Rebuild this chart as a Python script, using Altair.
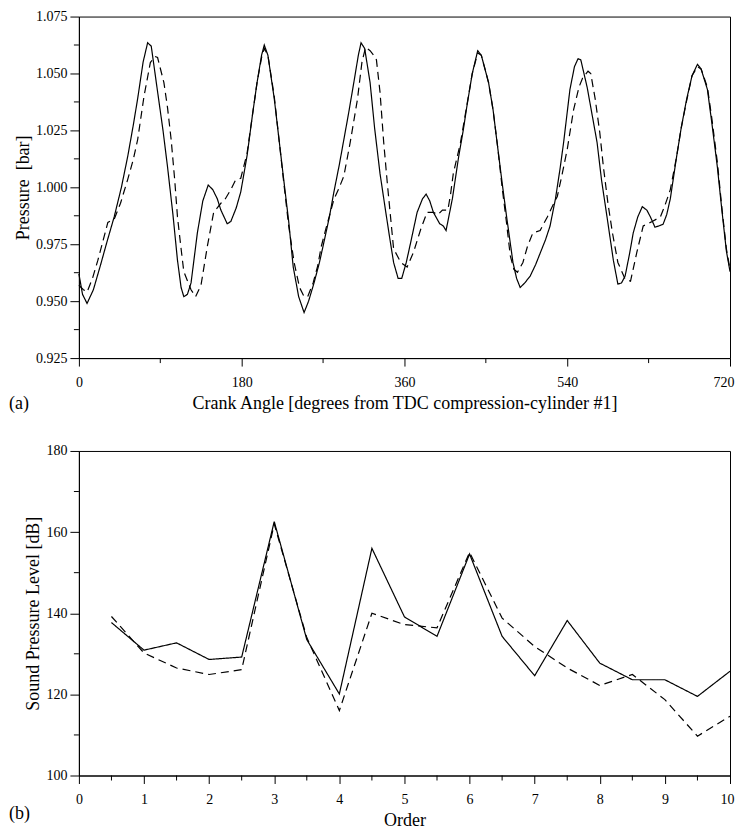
import altair as alt
import pandas as pd

# ---------------- data ----------------
crank_meas = [0, 4, 9, 16, 24, 31, 39, 47, 54, 60, 65, 71, 76, 80, 87, 93, 98, 104, 109, 113,
              116, 120, 124, 131, 137, 143, 148, 153, 157, 164, 168, 174, 179, 186, 192, 197,
              202, 205, 209, 216, 221, 226, 232, 237, 243, 249, 254, 260, 266, 271, 277, 282,
              288, 293, 298, 304, 309, 312, 316, 322, 327, 333, 339, 344, 348, 353, 357, 362,
              367, 374, 380, 384, 388, 392, 399, 403, 406, 413, 420, 425, 429, 435, 441, 445,
              453, 458, 462, 468, 473, 480, 484, 488, 493, 499, 505, 510, 516, 521, 527, 532,
              536, 543, 548, 552, 555, 562, 567, 573, 578, 584, 591, 596, 600, 604, 609, 613,
              618, 623, 628, 632, 637, 641, 646, 650, 654, 661, 666, 672, 678, 684, 688, 695,
              700, 706, 711, 716, 720]
p_meas = [0.962, 0.953, 0.949, 0.955, 0.966, 0.976, 0.987, 1.000, 1.0136, 1.027, 1.039, 1.055,
          1.0635, 1.062, 1.042, 1.025, 1.009, 0.988, 0.968, 0.956, 0.952, 0.953, 0.958, 0.980,
          0.994, 1.001, 0.999, 0.995, 0.990, 0.984, 0.985, 0.991, 0.998, 1.014, 1.032, 1.046,
          1.058, 1.0625, 1.058, 1.039, 1.022, 1.005, 0.985, 0.965, 0.952, 0.945, 0.950, 0.958,
          0.967, 0.976, 0.987, 0.998, 1.010, 1.021, 1.032, 1.046, 1.058, 1.0635, 1.061, 1.046,
          1.026, 1.006, 0.990, 0.977, 0.967, 0.960, 0.960, 0.967, 0.976, 0.989, 0.995, 0.997,
          0.994, 0.989, 0.984, 0.983, 0.981, 0.995, 1.0136, 1.025, 1.0355, 1.050, 1.060, 1.058,
          1.046, 1.034, 1.021, 1.002, 0.987, 0.967, 0.960, 0.956, 0.958, 0.961, 0.966, 0.971,
          0.977, 0.983, 0.995, 1.008, 1.0197, 1.043, 1.053, 1.0565, 1.056, 1.044, 1.033, 1.0197,
          1.003, 0.987, 0.968, 0.9575, 0.958, 0.961, 0.971, 0.980, 0.987, 0.9915, 0.990, 0.987,
          0.9825, 0.983, 0.9838, 0.988, 0.995, 1.0136, 1.026, 1.0386, 1.049, 1.054, 1.052, 1.043,
          1.028, 1.009, 0.990, 0.972, 0.963]

crank_sim = [0, 5, 9, 15, 21, 27, 32, 39, 46, 54, 60, 65, 72, 79, 84, 87, 94, 98, 102, 106,
             109, 113, 116, 124, 129, 135, 142, 149, 157, 162, 168, 173, 179, 186, 192, 197,
             202, 205, 209, 216, 221, 226, 232, 238, 244, 249, 253, 259, 264, 268, 273, 282,
             288, 293, 300, 308, 313, 317, 322, 326, 329, 333, 337, 341, 348, 356, 363, 370,
             378, 385, 392, 397, 402, 408, 411, 414, 422, 429, 435, 441, 445, 453, 458, 463,
             468, 473, 477, 481, 485, 491, 496, 502, 510, 518, 524, 529, 534, 540, 547, 553,
             557, 563, 566, 571, 576, 580, 585, 590, 596, 604, 610, 617, 624, 634, 643, 648,
             654, 661, 666, 672, 678, 684, 688, 695, 700, 706, 711, 716, 720]
p_sim = [0.957, 0.955, 0.954, 0.960, 0.968, 0.977, 0.9846, 0.986, 0.993, 1.0035, 1.012, 1.021,
         1.040, 1.0548, 1.0575, 1.057, 1.046, 1.035, 1.021, 1.003, 0.987, 0.973, 0.963, 0.955,
         0.952, 0.957, 0.974, 0.989, 0.993, 0.995, 0.999, 1.003, 1.004, 1.015, 1.032, 1.046,
         1.057, 1.061, 1.058, 1.040, 1.022, 1.004, 0.983, 0.967, 0.956, 0.952, 0.952, 0.958,
         0.9654, 0.974, 0.9816, 0.9947, 1.000, 1.005, 1.0197, 1.0386, 1.055, 1.0615, 1.060,
         1.058, 1.056, 1.0417, 1.020, 1.002, 0.973, 0.967, 0.965, 0.9715, 0.9816, 0.989, 0.989,
         0.988, 0.990, 0.990, 0.997, 1.006, 1.0197, 1.036, 1.050, 1.059, 1.058, 1.046, 1.034,
         1.018, 1.000, 0.984, 0.970, 0.964, 0.9627, 0.967, 0.974, 0.980, 0.981, 0.987, 0.992,
         0.996, 1.005, 1.0167, 1.034, 1.044, 1.048, 1.051, 1.050, 1.0386, 1.024, 1.009, 0.993,
         0.980, 0.967, 0.9597, 0.9588, 0.9715, 0.983, 0.985, 0.987, 0.992, 0.999, 1.0136, 1.026,
         1.038, 1.049, 1.053, 1.052, 1.044, 1.030, 1.011, 0.991, 0.973, 0.964]

order = [0.5, 1.0, 1.5, 2.0, 2.5, 3.0, 3.5, 4.0, 4.5, 5.0, 5.5, 6.0, 6.5, 7.0, 7.5, 8.0, 8.5,
         9.0, 9.5, 10.0]
spl_meas = [137.7, 130.9, 132.7, 128.6, 129.2, 162.6, 133.5, 120.1, 156.0, 139.1, 134.3, 154.6,
            134.3, 124.6, 138.2, 127.7, 123.6, 123.6, 119.5, 125.7]
spl_sim = [139.2, 130.2, 126.5, 124.9, 126.1, 162.0, 134.0, 116.0, 140.0, 137.2, 136.4, 155.0,
           138.8, 131.8, 126.5, 122.2, 124.9, 118.7, 109.7, 114.6]

crank_ticks = [0, 180, 360, 540, 720]
crank_minor = [90, 270, 450, 630]
p_ticks = [0.925, 0.950, 0.975, 1.000, 1.025, 1.050, 1.075]
p_minor = [0.9375, 0.9625, 0.9875, 1.0125, 1.0375, 1.0625]
order_ticks = [0, 1, 2, 3, 4, 5, 6, 7, 8, 9, 10]
order_minor = [0.5, 1.5, 2.5, 3.5, 4.5, 5.5, 6.5, 7.5, 8.5, 9.5]
spl_ticks = [100, 120, 140, 160, 180]
spl_minor = [110, 130, 150, 170]

series_names = ["measured", "simulated"]

# ---------------- styling ----------------
FONT = "Liberation Serif"
W = 652
H1 = 342
H2 = 325
DASH = [8, 5]


def axis(values, title, fmt, tick, lpad, tpad, last=None):
    extra = {}
    if last is not None:
        # keep the last label inside the page (right-aligned, nudged outward)
        extra["labelAlign"] = alt.condition(f"datum.value >= {last}",
                                            alt.value("right"), alt.value("center"))
        extra["labelOffset"] = alt.condition(f"datum.value >= {last}",
                                             alt.value(4), alt.value(0))
    return alt.Axis(values=values, title=title, format=fmt, tickSize=tick, labelPadding=lpad,
                    titlePadding=tpad, labelFont=FONT, labelFontSize=14, labelColor="black",
                    titleFont=FONT, titleFontSize=18, titleFontWeight="normal",
                    titleColor="black", domainColor="black", tickColor="black",
                    domainWidth=1, tickWidth=1, grid=False, labelFlush=False,
                    labelOverlap=False, **extra)


def panel(xs1, ys1, xs2, ys2, xdom, ydom, xt, xmin, yt, ymin, xtitle, ytitle,
          xfmt, yfmt, h, tag, tag_dy, xlpad, xtpad):
    xs = alt.Scale(domain=xdom, nice=False, zero=False)
    ys = alt.Scale(domain=ydom, nice=False, zero=False)
    xax = axis(xt, xtitle, xfmt, 8, xlpad, xtpad, last=xdom[1])
    yax = axis(yt, ytitle, yfmt, 9, 3, 3)
    df = pd.DataFrame({
        "x": list(xs1) + list(xs2),
        "y": list(ys1) + list(ys2),
        "s": [series_names[0]] * len(xs1) + [series_names[1]] * len(xs2),
    })
    lines = alt.Chart(df).mark_line(color="black", strokeWidth=1.2).encode(
        x=alt.X("x:Q", scale=xs, axis=xax),
        y=alt.Y("y:Q", scale=ys, axis=yax),
        strokeDash=alt.StrokeDash("s:N", scale=alt.Scale(domain=series_names,
                                                         range=[[1, 0], DASH]),
                                  legend=None),
        order=alt.Order("x:Q"),
    )
    xminor = alt.Chart(pd.DataFrame({"x": xmin})).mark_rule(color="black", strokeWidth=1).encode(
        x=alt.X("x:Q", scale=xs, axis=xax),
        y=alt.value(h), y2=alt.value(h + 5),
    )
    yminor = alt.Chart(pd.DataFrame({"y": ymin})).mark_rule(color="black", strokeWidth=1).encode(
        y=alt.Y("y:Q", scale=ys, axis=yax),
        x=alt.value(0), x2=alt.value(-5),
    )
    label = alt.Chart(pd.DataFrame({"t": [tag]})).mark_text(
        font=FONT, fontSize=18, align="left", baseline="middle", color="black"
    ).encode(text="t:N", x=alt.value(-70), y=alt.value(h + tag_dy))
    return alt.layer(lines, xminor, yminor, label).properties(width=W, height=h)


top = panel(crank_meas, p_meas, crank_sim, p_sim, [0, 720], [0.925, 1.075],
            crank_ticks, crank_minor, p_ticks, p_minor,
            "Crank Angle [degrees from TDC compression-cylinder #1]",
            "Pressure \u00a0[bar]", "d", ".3f", H1, "(a)", 46, 9, 5)

bottom = panel(order, spl_meas, order, spl_sim, [0, 10], [100, 180],
               order_ticks, order_minor, spl_ticks, spl_minor,
               "Order", "Sound Pressure Level [dB]", "d", "d", H2, "(b)", 39, 9, 5)

chart = alt.vconcat(top, bottom, spacing=29).properties(
    padding={"left": 0, "top": 0, "right": 0, "bottom": 0}, background="white"
).configure_view(stroke="black", strokeWidth=1)

chart.save("out.html", embed_options={"renderer": "svg", "actions": False})
